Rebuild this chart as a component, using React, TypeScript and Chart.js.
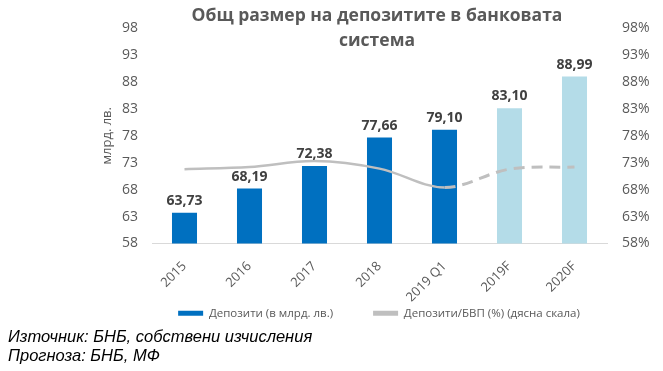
import React, { useEffect, useRef } from 'react';
import { Chart, registerables } from 'chart.js';

Chart.register(...registerables);

const categories = ['2015', '2016', '2017', '2018', '2019 Q1', '2019F', '2020F'];
const deposits = [63.73, 68.19, 72.38, 77.66, 79.1, 83.1, 88.99];
const depositsToGdp = [71.8, 72.2, 73.3, 71.9, 68.4, 71.8, 72.2];
const isForecast = [false, false, false, false, false, true, true];
const axisMin = 58;
const axisMax = 98;
const axisStep = 5;

const titleLines = ['Общ размер на депозитите в банковата', 'система'];
const leftAxisTitle = 'млрд. лв.';
const seriesNames = ['Депозити (в млрд. лв.)', 'Депозити/БВП (%) (дясна скала)'];
const sourceLines = ['Източник: БНБ, собствени изчисления', 'Прогноза: БНБ, МФ'];

const BLUE = '#0070C0';
const LIGHT_BLUE = '#B4DCE8';
const GRAY_LINE = '#BFBFBF';
const TEXT = '#595959';
const FONT = "'Open Sans', sans-serif";

const dataLabelPlugin = {
  id: 'dataLabels',
  afterDatasetsDraw(chart: any) {
    const meta = chart.getDatasetMeta(0);
    const ctx = chart.ctx;
    ctx.save();
    ctx.font = `bold 14px ${FONT}`;
    ctx.fillStyle = '#404040';
    ctx.textAlign = 'center';
    ctx.textBaseline = 'bottom';
    meta.data.forEach((bar: any, i: number) => {
      const v = deposits[i].toFixed(2).replace('.', ',');
      ctx.fillText(v, bar.x, bar.y - 5);
    });
    ctx.restore();
  },
};

// Move the legend up into the empty space left of the rotated labels.
const legendShiftPlugin = {
  id: 'legendShift',
  afterLayout(chart: any) {
    const lg = chart.legend;
    if (lg) {
      lg.top -= 34;
      lg.bottom -= 34;
    }
  },
};

export default function App() {
  const ref = useRef<HTMLCanvasElement | null>(null);

  useEffect(() => {
    if (!ref.current) return;
    const chart = new Chart(ref.current, {
      type: 'bar',
      data: {
        labels: categories,
        datasets: [
          {
            type: 'bar',
            label: seriesNames[0],
            data: deposits,
            backgroundColor: isForecast.map((f) => (f ? LIGHT_BLUE : BLUE)),
            borderWidth: 0,
            barPercentage: 0.385,
            categoryPercentage: 1,
            yAxisID: 'y',
            order: 2,
          },
          {
            type: 'line',
            label: seriesNames[1],
            data: depositsToGdp,
            borderColor: GRAY_LINE,
            backgroundColor: GRAY_LINE,
            borderWidth: 2.5,
            pointRadius: 0,
            tension: 0.35,
            yAxisID: 'y1',
            order: 1,
            segment: {
              borderDash: (c: any) => (c.p0DataIndex >= 4 ? [11, 7] : undefined),
              borderWidth: (c: any) => (c.p0DataIndex >= 4 ? 3 : 2.5),
            },
          } as any,
        ],
      },
      options: {
        responsive: false,
        animation: false,
        devicePixelRatio: 1,
        layout: { padding: { left: 95, right: 0, top: 28, bottom: 8 } },
        plugins: {
          tooltip: { enabled: false },
          title: { display: false },
          legend: {
            position: 'bottom',
            labels: {
              font: { family: FONT, size: 11.5 },
              color: TEXT,
              boxWidth: 25,
              boxHeight: 5,
              padding: 40,
              sort: (a: any, b: any) => a.datasetIndex - b.datasetIndex,
              generateLabels: (c: any) => {
                const items = Chart.defaults.plugins.legend.labels.generateLabels(c);
                return items.map((it: any) => ({
                  ...it,
                  fillStyle: it.datasetIndex === 0 ? BLUE : GRAY_LINE,
                  strokeStyle: it.datasetIndex === 0 ? BLUE : GRAY_LINE,
                  lineWidth: 0,
                  lineDash: [],
                }));
              },
            },
          },
        },
        scales: {
          x: {
            grid: { display: false, drawTicks: false },
            border: { display: true, color: '#D9D9D9', width: 1 },
            ticks: {
              font: { family: FONT, size: 13 },
              color: TEXT,
              minRotation: 45,
              maxRotation: 45,
              padding: 15,
            },
            afterFit: (s: any) => {
              s.height = 58;
            },
          },
          y: {
            position: 'left',
            min: axisMin,
            max: axisMax,
            grid: { display: false, drawTicks: false },
            border: { display: false },
            ticks: {
              stepSize: axisStep,
              font: { family: FONT, size: 14 },
              color: TEXT,
              padding: 14,
            },
            title: {
              display: true,
              text: leftAxisTitle,
              font: { family: FONT, size: 13 },
              color: TEXT,
            },
            afterFit: (s: any) => {
              s.width = 57;
            },
          },
          y1: {
            position: 'right',
            min: axisMin,
            max: axisMax,
            grid: { display: false, drawTicks: false },
            border: { display: false },
            ticks: {
              stepSize: axisStep,
              font: { family: FONT, size: 14 },
              color: TEXT,
              padding: 15,
              callback: (v: any) => `${v}%`,
            },
            afterFit: (s: any) => {
              s.width = 56;
            },
          },
        },
      },
      plugins: [dataLabelPlugin, legendShiftPlugin],
    });
    return () => chart.destroy();
  }, []);

  return (
    <div style={{ position: 'absolute', left: 0, top: 0, width: 663, height: 371, background: '#fff' }}>
      <canvas ref={ref} width={663} height={371} style={{ display: 'block' }} />
      <div
        style={{
          position: 'absolute',
          left: 177,
          width: 400,
          top: 2,
          textAlign: 'center',
          fontFamily: FONT,
          fontWeight: 700,
          fontSize: 17.5,
          lineHeight: '25px',
          color: TEXT,
        }}
      >
        {titleLines.map((t, i) => (
          <div key={i}>{t}</div>
        ))}
      </div>
      <div
        style={{
          position: 'absolute',
          left: 8,
          top: 327,
          fontFamily: "'Liberation Sans', Arial, sans-serif",
          fontStyle: 'italic',
          fontSize: 16.5,
          lineHeight: '19px',
          color: '#000',
        }}
      >
        {sourceLines.map((t, i) => (
          <div key={i}>{t}</div>
        ))}
      </div>
    </div>
  );
}
